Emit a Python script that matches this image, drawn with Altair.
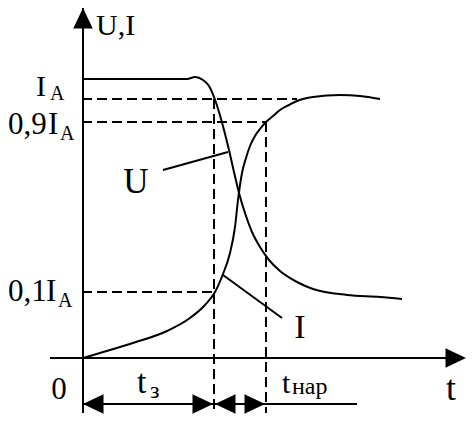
import altair as alt
import pandas as pd

# Diagram units: t = horizontal (time), v = vertical (U, I level)
u_t = [0, 104, 112, 120, 126, 131, 136, 141, 146, 151, 156, 162, 169, 177, 186, 197, 214, 230, 264, 297, 319]
u_v = [279, 279, 281, 278, 272, 261, 246, 228, 208, 186, 165, 145, 126, 111, 98, 87, 76, 69, 63, 61, 59]
i_t = [0, 17, 50, 84, 107, 122, 132, 140, 147, 152, 155, 159, 163, 167, 172, 177, 183, 190, 197, 206, 214, 230, 257, 277, 297]
i_v = [0, 5, 15, 27, 40, 53, 66, 84, 105, 131, 158, 185, 200, 212, 222, 229, 236, 242, 248, 253, 257, 261, 263, 262, 259]

# solid segments: axes, dimension line, leader lines
seg_id = ["yaxis", "yaxis", "xaxis", "xaxis", "dim", "dim", "leadU", "leadU", "leadI", "leadI"]
seg_t = [0, 0, -33, 376, 0, 274, 80, 145, 140, 199]
seg_v = [-55, 350, 0, 0, -46, -46, 188, 206, 83, 40]

# dashed segments
dash_id = ["h1", "h1", "h09", "h09", "h01", "h01", "vA", "vA", "vB", "vB"]
dash_t = [-1, 214, -1, 183, -1, 132, 131, 131, 183, 183]
dash_v = [259, 259, 236, 236, 66, 66, 259, -55, 236, -55]

# arrowheads (tip positions and direction angle)
arr_t = [0, 383, 0, 130, 132, 182]
arr_v = [350, 0, -46, -46, -46, -46]
arr_a = [270, 0, 180, 0, 180, 0]

# labels
lab_text = ["U,I", "I", "A", "0,9", "I", "A", "0,1", "I", "A", "t", "з", "t", "нар"]
lab_t = [13, -47, -33, -75, -35, -23, -75, -37, -25, 54, 67, 199, 209]
lab_v = [323, 262, 258, 224, 224, 218, 57, 57, 51, -35, -40, -35, -36]
lab_fs = [30, 30, 20, 31, 31, 20, 31, 31, 20, 34, 24, 30, 24]

clab_text = ["U", "I", "0", "t"]
clab_t = [53, 217, -24, 368]
clab_v = [165, 20, -41, -42]
clab_fs = [35, 34, 31, 36]

xs = alt.Scale(domain=[-75, 384], nice=False, zero=False)
ys = alt.Scale(domain=[-56, 350], nice=False, zero=False)
X = alt.X("t:Q", scale=xs, axis=None)
Y = alt.Y("v:Q", scale=ys, axis=None)

curves = pd.concat([
    pd.DataFrame({"t": u_t, "v": u_v, "c": "U"}),
    pd.DataFrame({"t": i_t, "v": i_v, "c": "I"}),
])
segs = pd.DataFrame({"id": seg_id, "t": seg_t, "v": seg_v})
dashes = pd.DataFrame({"id": dash_id, "t": dash_t, "v": dash_v})
arrows = pd.DataFrame({"t": arr_t, "v": arr_v, "a": arr_a})
labs = pd.DataFrame({"txt": lab_text, "t": lab_t, "v": lab_v, "fs": lab_fs})
clabs = pd.DataFrame({"txt": clab_text, "t": clab_t, "v": clab_v, "fs": clab_fs})

curve_layer = alt.Chart(curves).mark_line(color="black", strokeWidth=2, interpolate="monotone").encode(
    x=X, y=Y, detail="c:N", order="t:Q")
seg_layer = alt.Chart(segs).mark_line(color="black", strokeWidth=2).encode(x=X, y=Y, detail="id:N")
dash_layer = alt.Chart(dashes).mark_line(color="black", strokeWidth=2, strokeDash=[10, 5]).encode(
    x=X, y=Y, detail="id:N")
arrow_layer = alt.Chart(arrows).mark_point(
    shape="M0,0L-2,-0.95L-2,0.95Z", filled=True, color="black", opacity=1, size=420, strokeWidth=0
).encode(x=X, y=Y, angle=alt.Angle("a:Q", scale=None))
text_layer = alt.Chart(labs).mark_text(align="left", baseline="alphabetic", font="Liberation Serif",
                                       color="black").encode(
    x=X, y=Y, text="txt:N", size=alt.Size("fs:Q", scale=None))
ctext_layer = alt.Chart(clabs).mark_text(align="center", baseline="alphabetic", font="Liberation Serif",
                                         color="black").encode(
    x=X, y=Y, text="txt:N", size=alt.Size("fs:Q", scale=None))

chart = alt.layer(dash_layer, seg_layer, curve_layer, arrow_layer, text_layer, ctext_layer).properties(
    width=459, height=406, autosize=alt.AutoSizeParams(type="none"), padding=0, background="white"
).configure_view(stroke=None)

chart.save("out.html", embed_options={"renderer": "svg", "actions": False})
